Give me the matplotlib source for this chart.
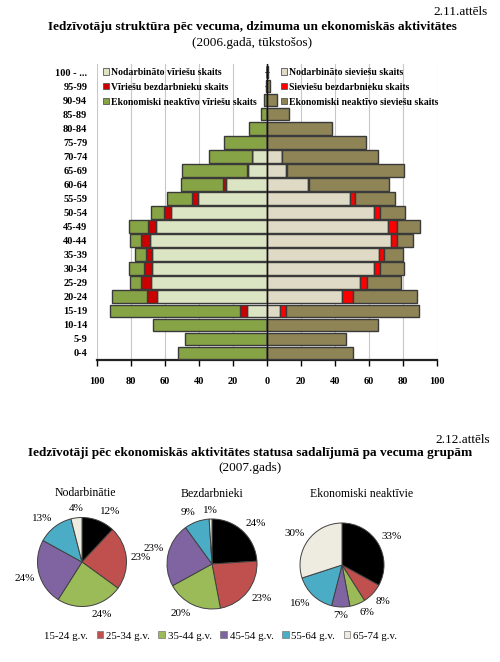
import numpy as np
import matplotlib
matplotlib.use("Agg")
import matplotlib.pyplot as plt
from matplotlib.patches import Patch

plt.rcParams['font.family'] = ['Liberation Serif', 'DejaVu Serif']

# ---------------- data: pyramid (thousands, 2006) ----------------
ages = ['0-4', '5-9', '10-14', '15-19', '20-24', '25-29', '30-34', '35-39', '40-44',
        '45-49', '50-54', '55-59', '60-64', '65-69', '70-74', '75-79', '80-84',
        '85-89', '90-94', '95-99', '100 - ...']
male_employed = [0, 0, 0, 11.6, 64.6, 68.5, 67.9, 67.4, 68.9, 65.2, 56.2, 40.7, 24.2,
                 11.4, 8.7, 0, 0, 0, 0, 0, 0]
male_unemployed = [0, 0, 0, 4.1, 6.1, 5.5, 4.5, 3.5, 5.1, 4.7, 4.3, 3.7, 1.9,
                   0.6, 0, 0, 0, 0, 0, 0, 0]
male_inactive = [52.3, 48.1, 67.0, 76.8, 20.5, 6.4, 8.6, 6.7, 6.6, 11.2, 7.7, 14.3, 24.4,
                 38.0, 25.7, 25.5, 10.6, 3.6, 2.0, 0.6, 0.2]
female_employed = [0, 0, 0, 7.8, 43.9, 54.5, 62.9, 65.7, 72.9, 70.9, 62.9, 48.6, 23.9,
                   11.2, 9.0, 0, 0, 0, 0, 0, 0]
female_unemployed = [0, 0, 0, 3.3, 6.7, 4.3, 3.3, 2.9, 3.3, 5.5, 3.3, 3.1, 0.8,
                     0.3, 0, 0, 0, 0, 0, 0, 0]
female_inactive = [50.6, 46.6, 65.1, 78.5, 37.4, 20.0, 14.6, 11.4, 9.9, 13.6, 14.8, 23.6, 47.1,
                   69.1, 56.0, 58.0, 38.0, 13.2, 6.1, 1.6, 0.4]
x_ticks = [-100, -80, -60, -40, -20, 0, 20, 40, 60, 80, 100]

male_labels = ['Nodarbināto vīriešu skaits', 'Vīriešu bezdarbnieku skaits',
               'Ekonomiski neaktīvo vīriešu skaits']
female_labels = ['Nodarbināto sieviešu skaits', 'Sieviešu bezdarbnieku skaits',
                 'Ekonomiski neaktīvo sieviešu skaits']

# ---------------- data: pies (%, 2007) ----------------
age_groups = ['15-24 g.v.', '25-34 g.v.', '35-44 g.v.', '45-54 g.v.', '55-64 g.v.', '65-74 g.v.']
pie_titles = ['Nodarbinātie', 'Bezdarbnieki', 'Ekonomiski neaktīvie']
employed_pct = [12, 23, 24, 24, 13, 4]
unemployed_pct = [24, 23, 20, 23, 9, 1]
inactive_pct = [33, 8, 6, 7, 16, 30]

# ---------------- styling ----------------
W, H = 500, 662
c_m_emp, c_m_unemp, c_m_inact = '#DCE5C3', '#CC0000', '#86A346'
c_f_emp, c_f_unemp, c_f_inact = '#DFDAC6', '#FF0000', '#8E8455'
edge = '#3a3a3a'
pie_colors = ['#000000', '#C0504D', '#9BBB59', '#8064A2', '#4BACC6', '#EEECE1']

fig = plt.figure(figsize=(W / 100, H / 100), dpi=100)

def fx(px):
    return px / W

def fy(py):
    return 1 - py / H

# titles
fig.text(fx(488), fy(12), '2.11.attēls', ha='right', va='center', fontsize=9.5)
fig.text(fx(252), fy(27), 'Iedzīvotāju struktūra pēc vecuma, dzimuma un ekonomiskās aktivitātes',
         ha='center', va='center', fontsize=9.5, fontweight='bold')
fig.text(fx(252), fy(43), '(2006.gadā, tūkstošos)', ha='center', va='center', fontsize=9.5)

# ---------------- pyramid ----------------
ax = fig.add_axes([fx(97), fy(360), fx(340), 296 / H])
y = np.arange(len(ages))
me = np.array(male_employed)
mu = np.array(male_unemployed)
mi = np.array(male_inactive)
fe = np.array(female_employed)
fu = np.array(female_unemployed)
fi = np.array(female_inactive)
bh = 0.9
kw = dict(height=bh, edgecolor=edge, linewidth=1.0, zorder=3)
ax.barh(y, -me, color=c_m_emp, **kw)
ax.barh(y, -mu, left=-me, color=c_m_unemp, **kw)
ax.barh(y, -mi, left=-(me + mu), color=c_m_inact, **kw)
ax.barh(y, fe, color=c_f_emp, **kw)
ax.barh(y, fu, left=fe, color=c_f_unemp, **kw)
ax.barh(y, fi, left=fe + fu, color=c_f_inact, **kw)

ax.set_xlim(-100, 100)
ax.set_ylim(-0.5, len(ages) - 0.43)
ax.set_xticks(x_ticks)
ax.set_xticklabels([str(abs(t)) for t in x_ticks], fontsize=7.5, fontweight='bold')
ax.set_yticks(y)
ax.set_yticklabels(ages, fontsize=7.5, fontweight='bold')
ax.tick_params(axis='y', length=0, pad=7)
ax.tick_params(axis='x', length=4, width=1, direction='out', pad=8)
ax.grid(axis='x', color='#c8c8c8', linewidth=0.8, zorder=0)
for s in ['top', 'right', 'left']:
    ax.spines[s].set_visible(False)
ax.spines['bottom'].set_linewidth(1.6)
ax.spines['bottom'].set_color('#222222')
ax.axvline(0, color='#111111', linewidth=1.0, zorder=4)
sec = ax.secondary_yaxis(0.5)
sec.set_yticks(y)
sec.set_yticklabels([])
sec.tick_params(axis='y', length=2.5, direction='inout', width=0.8)
sec.spines['left'].set_visible(False)

h_m = [Patch(facecolor=c, edgecolor='#555555', linewidth=0.6) for c in (c_m_emp, c_m_unemp, c_m_inact)]
h_f = [Patch(facecolor=c, edgecolor='#555555', linewidth=0.6) for c in (c_f_emp, c_f_unemp, c_f_inact)]
leg_kw = dict(frameon=False, prop={'size': 7, 'weight': 'bold'}, handlelength=0.6,
              handleheight=0.6, handletextpad=0.2, labelspacing=0.6, borderpad=0,
              borderaxespad=0)
l1 = ax.legend(h_m, male_labels, loc='upper left',
               bbox_to_anchor=(fx(103), fy(68)), bbox_transform=fig.transFigure, **leg_kw)
ax.add_artist(l1)
ax.legend(h_f, female_labels, loc='upper left',
          bbox_to_anchor=(fx(281), fy(68)), bbox_transform=fig.transFigure, **leg_kw)

# ---------------- second figure titles ----------------
fig.text(fx(490), fy(440), '2.12.attēls', ha='right', va='center', fontsize=9.5)
fig.text(fx(250), fy(453),
         'Iedzīvotāji pēc ekonomiskās aktivitātes statusa sadalījumā pa vecuma grupām',
         ha='center', va='center', fontsize=9.5, fontweight='bold')
fig.text(fx(250), fy(468), '(2007.gads)', ha='center', va='center', fontsize=9.5)

# ---------------- pies ----------------
pies = [employed_pct, unemployed_pct, inactive_pct]
centers = [(82, 562, 44.5), (212, 564, 45), (342, 565, 42)]
title_pos = [(85, 493), (212, 494), (362, 494)]
S = 130
for vals, (cx, cy, r), title, (tx, ty) in zip(pies, centers, pie_titles, title_pos):
    pax = fig.add_axes([fx(cx - S / 2), fy(cy + S / 2), S / W, S / H])
    wedges, _ = pax.pie(vals, colors=pie_colors, startangle=90, counterclock=False,
                        wedgeprops=dict(edgecolor='#404040', linewidth=0.7))
    lim = (S / 2) / r
    pax.set_xlim(-lim, lim)
    pax.set_ylim(-lim, lim)
    pax.set_aspect('auto')
    for w, v in zip(wedges, vals):
        ang = np.deg2rad((w.theta1 + w.theta2) / 2)
        c, s = np.cos(ang), np.sin(ang)
        ha = 'left' if c > 0.15 else ('right' if c < -0.15 else 'center')
        va = 'bottom' if s > 0.15 else ('top' if s < -0.15 else 'center')
        pax.text(1.1 * c, 1.1 * s, f'{v}%', ha=ha, va=va, fontsize=8)
    fig.text(fx(tx), fy(ty), title, ha='center', va='center', fontsize=8.5)

handles = [Patch(facecolor=c, edgecolor='#777777', linewidth=0.5) for c in pie_colors]
handles[0] = Patch(facecolor='white', edgecolor='white')
fig.legend(handles, age_groups, loc='center', bbox_to_anchor=(fx(216), fy(636)), ncol=6,
           frameon=False, fontsize=7.8, handlelength=0.6, handleheight=0.6,
           handletextpad=0.25, columnspacing=0.8)

fig.savefig('out.png', dpi=100)
